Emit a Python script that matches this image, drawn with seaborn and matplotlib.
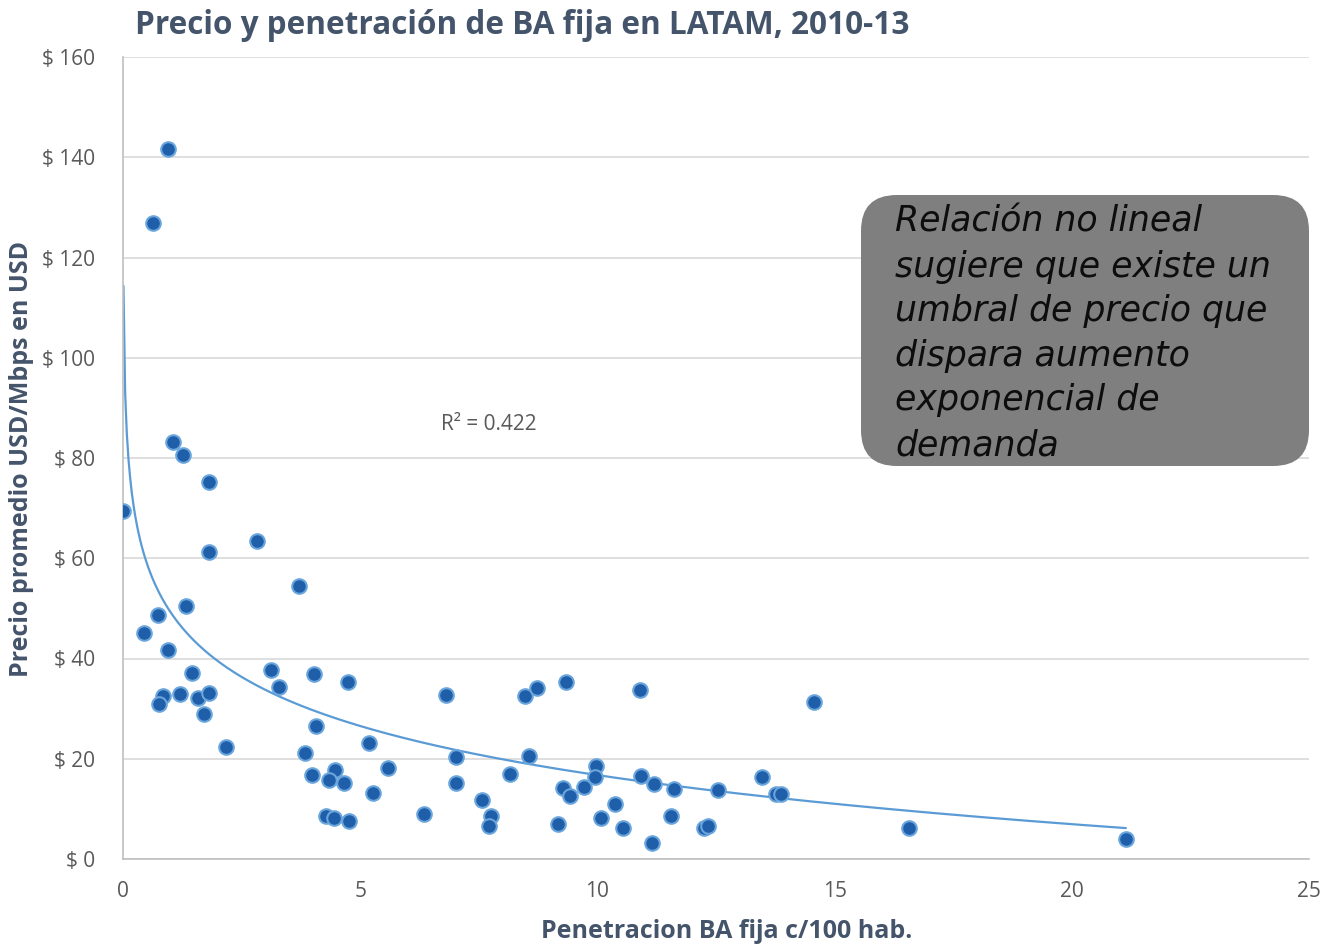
import numpy as np
import pandas as pd
import matplotlib
matplotlib.use("Agg")
import matplotlib.pyplot as plt
from matplotlib.patches import FancyBboxPatch
import seaborn as sns

sns.set_style("white")
plt.rcParams['font.family'] = ['Open Sans', 'DejaVu Sans']

# penetration (per 100 inhabitants) and average price USD/Mbps
penetracion = [0.95, 0.63, 0.01, 1.05, 1.26, 1.81, 1.81, 2.82, 3.70, 1.33,
               0.74, 0.44, 0.94, 1.45, 0.84, 0.76, 1.20, 1.58, 1.81, 1.70,
               2.17, 3.11, 3.29, 4.02, 4.75, 4.06, 3.84, 3.98, 4.46, 4.34,
               4.66, 4.27, 4.45, 4.76, 5.18, 5.59, 5.28, 6.34, 6.80, 7.02,
               7.02, 7.56, 7.75, 7.71, 8.16, 8.48, 8.73, 8.56, 9.34, 9.16,
               9.28, 9.42, 9.72, 9.97, 9.95, 10.08, 10.38, 10.53, 10.90, 10.92,
               11.15, 11.20, 11.55, 11.62, 12.25, 12.34, 12.54, 13.46, 13.76, 13.86,
               14.57, 16.57, 21.14]
precio = [141.6, 126.9, 69.4, 83.2, 80.5, 75.2, 61.2, 63.4, 54.5, 50.4,
          48.6, 45.1, 41.7, 37.1, 32.6, 30.9, 32.9, 32.2, 33.1, 29.0,
          22.3, 37.7, 34.3, 36.9, 35.4, 26.5, 21.2, 16.8, 17.8, 15.8,
          15.2, 8.6, 8.2, 7.5, 23.1, 18.2, 13.2, 9.0, 32.7, 20.4,
          15.2, 11.8, 8.6, 6.5, 17.0, 32.5, 34.1, 20.5, 35.3, 7.0,
          14.2, 12.6, 14.3, 18.6, 16.4, 8.2, 11.0, 6.2, 33.7, 16.6,
          3.1, 14.9, 8.6, 14.0, 6.1, 6.6, 13.7, 16.4, 13.0, 13.0,
          31.3, 6.2, 4.0]

y_ticks = [0, 20, 40, 60, 80, 100, 120, 140, 160]
x_ticks = [0, 5, 10, 15, 20, 25]
r2_label = "R² = 0.422"
nota = ["Relación no lineal", "sugiere que existe un", "umbral de precio que",
        "dispara aumento", "exponencial de", "demanda"]

df = pd.DataFrame({"pen": penetracion, "precio": precio})

# logarithmic trend line (Excel style)
a, b = np.polyfit(np.log(df["pen"]), df["precio"], 1)
xs = np.linspace(df["pen"].min(), df["pen"].max(), 600)
trend = pd.DataFrame({"pen": xs, "precio": a * np.log(xs) + b})

fig = plt.figure(figsize=(13.25, 9.44), dpi=100)
ax = fig.add_axes([123 / 1325, 1 - 859 / 944, 1186 / 1325, 802 / 944])

sns.lineplot(data=trend, x="pen", y="precio", ax=ax, color="#5b9bd5", linewidth=1.6)
sns.scatterplot(data=df, x="pen", y="precio", ax=ax, s=110, color="#1f5ea8",
                edgecolor="#6aa5dc", linewidth=1.5, zorder=3)

ax.set_xlim(0, 25)
ax.set_ylim(0, 160)
ax.set_xticks(x_ticks)
ax.set_yticks(y_ticks)
ax.set_yticklabels([f"$ {v}" for v in y_ticks])
ax.tick_params(axis="both", length=0, labelsize=15, labelcolor="#595959")
ax.tick_params(axis="y", pad=20)
ax.tick_params(axis="x", pad=16)
ax.yaxis.grid(True, color="#d9d9d9", linewidth=1.2)
ax.set_axisbelow(True)
for side in ["top", "right"]:
    ax.spines[side].set_visible(False)
for side in ["left", "bottom"]:
    ax.spines[side].set_color("#bfbfbf")
    ax.spines[side].set_linewidth(1.2)
ax.set_xlabel("")
ax.set_ylabel("")

fig.text(727 / 1325, 1 - 931 / 944, "Penetracion BA fija c/100 hab.", fontsize=18,
         fontweight="bold", color="#44546a", ha="center", va="center")
fig.text(22 / 1325, 1 - 459 / 944, "Precio promedio USD/Mbps en USD", fontsize=18,
         fontweight="bold", color="#44546a", ha="center", va="center", rotation=90)

ax.text(6.7, 86.6, r2_label, fontsize=15, color="#595959", va="center", ha="left")

fig.text(135 / 1325, 1 - 25 / 944, "Precio y penetración de BA fija en LATAM, 2010-13",
         fontsize=22.7, fontweight="bold", color="#44546a", va="center", ha="left")

# grey note box
bw, bh = 448, 271
box_ax = fig.add_axes([861 / 1325, 1 - 466 / 944, bw / 1325, bh / 944])
box_ax.set_axis_off()
box_ax.set_xlim(0, 1)
box_ax.set_ylim(0, 1)
box_ax.add_patch(FancyBboxPatch((0, 0), 1, 1, boxstyle="round,pad=0,rounding_size=0.08",
                                mutation_aspect=bw / bh, facecolor="#7f7f7f",
                                edgecolor="none", transform=box_ax.transAxes))
for i, line in enumerate(nota):
    fig.text(895 / 1325, 1 - (222 + i * 44.6) / 944, line, fontsize=25,
             style="italic", family=["DejaVu Sans"], color="#0d0d0d",
             va="center", ha="left")

fig.savefig("out.png", dpi=100)
